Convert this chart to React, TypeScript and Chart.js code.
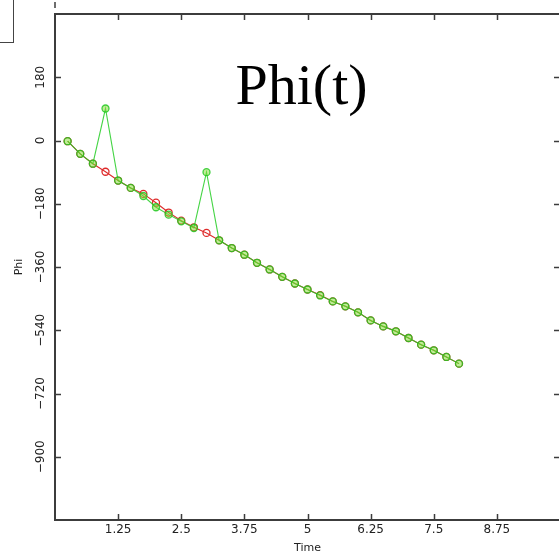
import React, { useEffect, useRef } from "react";
import { Chart, registerables } from "chart.js";

Chart.register(...registerables);

// ---- data ----
const TIME = [
  0.25, 0.5, 0.75, 1, 1.25, 1.5, 1.75, 2, 2.25, 2.5, 2.75, 3, 3.25, 3.5, 3.75, 4,
  4.25, 4.5, 4.75, 5, 5.25, 5.5, 5.75, 6, 6.25, 6.5, 6.75, 7, 7.25, 7.5, 7.75, 8,
];
const PHI_RED = [
  -2, -38, -66, -89, -114, -135, -152, -177, -205, -228, -247, -263, -284, -306, -325, -348,
  -367, -388, -407, -424, -440, -458, -472, -489, -512, -529, -543, -562, -581, -597, -616, -635,
];
const PHI_GREEN = [
  -2, -38, -66, 91, -114, -135, -158, -190, -211, -230, -249, -90, -284, -306, -325, -348,
  -367, -388, -407, -424, -441, -458, -472, -489, -512, -529, -543, -562, -581, -597, -616, -635,
];
const X_TICKS = [1.25, 2.5, 3.75, 5, 6.25, 7.5, 8.75];
const Y_TICKS = [180, 0, -180, -360, -540, -720, -900];
const X_RANGE = [0, 10];
const Y_RANGE = [-1080, 360];

const TITLE = "Phi(t)";
const X_TITLE = "Time";
const Y_TITLE = "Phi";

const fmt = (v: number) => (v < 0 ? "\u2212" + String(Math.abs(v)) : String(v));

const framePlugin = {
  id: "frameTicks",
  afterDraw(chart: any) {
    const { ctx, chartArea, scales } = chart;
    const { left, right, top, bottom } = chartArea;
    const xs = scales.x;
    const ys = scales.y;
    ctx.save();
    ctx.strokeStyle = "#3c3c3c";
    ctx.lineWidth = 2;
    ctx.strokeRect(left, top, right - left, bottom - top);
    // small mark above the top-left corner
    ctx.lineWidth = 1.5;
    ctx.beginPath();
    ctx.moveTo(left, top - 12);
    ctx.lineTo(left, top - 6);
    ctx.stroke();

    const tl = 6;
    ctx.lineWidth = 1.5;
    ctx.beginPath();
    for (const v of X_TICKS) {
      const px = Math.round(xs.getPixelForValue(v)) + 0.5;
      ctx.moveTo(px, bottom);
      ctx.lineTo(px, bottom - tl);
      ctx.moveTo(px, top);
      ctx.lineTo(px, top + tl);
    }
    for (const v of Y_TICKS) {
      const py = Math.round(ys.getPixelForValue(v)) + 0.5;
      ctx.moveTo(left, py);
      ctx.lineTo(left + tl, py);
      ctx.moveTo(right, py);
      ctx.lineTo(right - tl, py);
    }
    ctx.stroke();

    ctx.fillStyle = "#222";
    ctx.font = '12px "DejaVu Sans"';
    ctx.textAlign = "center";
    ctx.textBaseline = "middle";
    for (const v of X_TICKS) {
      ctx.fillText(String(v), xs.getPixelForValue(v), bottom + 10);
    }
    for (const v of Y_TICKS) {
      const py = ys.getPixelForValue(v);
      ctx.save();
      ctx.translate(left - 14, py);
      ctx.rotate(-Math.PI / 2);
      ctx.fillText(fmt(v), 0, 0);
      ctx.restore();
    }
    ctx.font = '11px "DejaVu Sans"';
    ctx.fillText(X_TITLE, (left + right) / 2, bottom + 28);
    ctx.save();
    ctx.translate(left - 36, (top + bottom) / 2);
    ctx.rotate(-Math.PI / 2);
    ctx.fillText(Y_TITLE, 0, 0);
    ctx.restore();

    ctx.font = '58px "Liberation Serif"';
    ctx.fillStyle = "#000";
    ctx.textBaseline = "alphabetic";
    ctx.fillText(TITLE, (left + right) / 2 - 6, top + 90);
    ctx.restore();
  },
};

export default function App() {
  const ref = useRef<HTMLCanvasElement | null>(null);
  useEffect(() => {
    if (!ref.current) return;
    const chart = new Chart(ref.current, {
      type: "line",
      data: {
        datasets: [
          {
            label: "green",
            data: TIME.map((t, i) => ({ x: t, y: PHI_GREEN[i] })),
            borderColor: "rgba(35,205,35,0.85)",
            backgroundColor: "rgba(35,205,35,0.85)",
            borderWidth: 1.1,
            pointRadius: 3.5,
            pointBorderWidth: 1.3,
            pointBorderColor: "rgba(35,200,35,0.85)",
            pointBackgroundColor: "rgba(130,220,50,0.5)",
            tension: 0,
          },
          {
            label: "red",
            data: TIME.map((t, i) => ({ x: t, y: PHI_RED[i] })),
            borderColor: "#de2a2a",
            backgroundColor: "#de2a2a",
            borderWidth: 1.1,
            pointRadius: 3.5,
            pointBorderWidth: 1.3,
            pointBorderColor: "#de2a2a",
            pointBackgroundColor: "rgba(255,255,255,0)",
            tension: 0,
          },
        ],
      },
      options: {
        animation: false,
        responsive: false,
        layout: { padding: { left: 55, top: 14, right: 15, bottom: 35 } },
        plugins: { legend: { display: false }, tooltip: { enabled: false }, title: { display: false } },
        scales: {
          x: {
            type: "linear",
            min: X_RANGE[0],
            max: X_RANGE[1],
            display: false,
            ticks: { stepSize: 1.25 },
          },
          y: {
            type: "linear",
            min: Y_RANGE[0],
            max: Y_RANGE[1],
            display: false,
            ticks: { stepSize: 180 },
          },
        },
      },
      plugins: [framePlugin],
    });
    return () => chart.destroy();
  }, []);

  return (
    <div
      style={{
        position: "fixed",
        left: 0,
        top: 0,
        width: 559,
        height: 555,
        overflow: "hidden",
        background: "#fff",
      }}
    >
      <canvas ref={ref} width={575} height={555} style={{ display: "block" }} />
      <div
        style={{
          position: "absolute",
          left: 0,
          top: 0,
          width: 13,
          height: 42,
          borderRight: "1.5px solid #444",
          borderBottom: "1.5px solid #444",
        }}
      />
    </div>
  );
}
